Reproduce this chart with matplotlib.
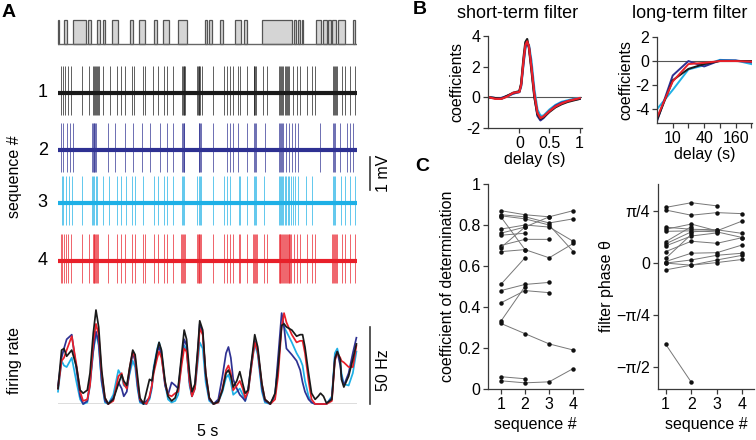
import numpy as np
import matplotlib
matplotlib.use('Agg')
import matplotlib.pyplot as plt
from matplotlib.ticker import FixedLocator, NullFormatter

plt.rcParams['font.family'] = ['Liberation Sans', 'DejaVu Sans']
plt.rcParams['axes.unicode_minus'] = False
plt.rcParams['font.size'] = 11.5

# ---- data ----
# stimulus pulses (s)
stim_on = [0.0, 0.10, 0.251, 0.498, 0.652, 0.747, 0.911, 1.204, 1.36, 1.609, 1.761, 2.012,
           2.45, 2.525, 2.709, 2.965, 3.107, 3.416, 3.943, 4.01, 4.072, 4.314, 4.436, 4.52,
           4.577, 4.674, 4.925]
stim_off = [0.015, 0.156, 0.46, 0.548, 0.694, 0.794, 1.003, 1.249, 1.455, 1.65, 1.848, 2.157,
            2.49, 2.575, 2.759, 3.052, 3.155, 3.913, 3.988, 4.047, 4.105, 4.406, 4.493, 4.56,
            4.649, 4.799, 4.967]

# spike times per sequence (s)
spikes1 = [0.05, 0.078, 0.117, 0.172, 0.212, 0.396, 0.524, 0.58, 0.60, 0.62, 0.635, 0.65, 0.665, 0.68,
           0.758, 0.87, 0.992, 1.048, 1.12, 1.232, 1.276, 1.416, 1.455, 1.594, 1.677, 1.773, 1.817, 1.928,
           2.07, 2.085, 2.10, 2.115, 2.125, 2.32, 2.335, 2.35, 2.365, 2.38, 2.40,
           2.597, 2.776, 2.821, 2.876, 2.932, 3.015, 3.043, 3.155, 3.27, 3.285, 3.30, 3.315,
           3.433, 3.49, 3.69, 3.71, 3.73, 3.75, 3.77, 3.79, 3.81, 3.83, 3.85, 3.87,
           3.935, 3.99, 4.047, 4.159, 4.242, 4.298, 4.60, 4.615, 4.63, 4.645, 4.66,
           4.744, 4.799, 4.883, 4.967]
spikes2 = [0.05, 0.089, 0.145, 0.2, 0.245, 0.565, 0.58, 0.595, 0.61, 0.625, 0.64, 0.84, 0.953,
           1.12, 1.248, 1.398, 1.538, 1.705, 1.817, 1.928, 2.07, 2.085, 2.10, 2.115,
           2.35, 2.365, 2.38, 2.395, 2.597, 2.82, 2.87, 2.93, 3.015, 3.155, 3.27, 3.29, 3.31,
           3.46, 3.70, 3.715, 3.73, 3.745, 3.76, 3.82, 3.86, 3.91, 3.96, 4.02, 4.38,
           4.60, 4.62, 4.64, 4.71, 4.83, 4.88, 4.94]
spikes3 = [0.06, 0.09, 0.13, 0.19, 0.23, 0.40, 0.57, 0.59, 0.61, 0.63, 0.65, 0.76, 0.86, 0.99,
           1.05, 1.13, 1.24, 1.28, 1.42, 1.60, 1.68, 1.78, 1.83, 1.93, 2.07, 2.09, 2.11,
           2.33, 2.35, 2.37, 2.39, 2.60, 2.78, 2.83, 2.88, 3.02, 3.05, 3.16, 3.27, 3.29, 3.31,
           3.45, 3.69, 3.71, 3.73, 3.75, 3.77, 3.79, 3.81, 3.84, 3.87, 3.90, 3.93, 3.97, 4.02,
           4.15, 4.25, 4.60, 4.62, 4.64, 4.74, 4.80, 4.88, 4.96]
spikes4 = [0.05, 0.07, 0.10, 0.14, 0.17, 0.21, 0.40, 0.52, 0.58, 0.595, 0.61, 0.625, 0.64, 0.655, 0.67,
           0.84, 0.99, 1.05, 1.12, 1.23, 1.28, 1.42, 1.46, 1.60, 1.68, 1.77, 1.82, 1.93,
           2.06, 2.075, 2.09, 2.105, 2.12, 2.32, 2.335, 2.35, 2.365, 2.38, 2.395,
           2.60, 2.78, 2.82, 2.88, 2.93, 3.02, 3.05, 3.16, 3.26, 3.275, 3.29, 3.305, 3.32,
           3.44, 3.49, 3.69, 3.705, 3.72, 3.735, 3.75, 3.765, 3.78, 3.795, 3.81, 3.825, 3.84,
           3.855, 3.87, 3.885, 3.90, 3.95, 4.00, 4.05, 4.16, 4.25, 4.30,
           4.59, 4.605, 4.62, 4.635, 4.65, 4.665, 4.75, 4.80, 4.88, 4.97]
trace_offset = [0.0, -1.73, -3.33, -5.09]   # mV
spike_up, spike_down = 0.82, 0.67         # mV

# firing rates (Hz)
rate_t = [0, 0.06, 0.10, 0.145, 0.23, 0.31, 0.37, 0.42, 0.49, 0.535,
          0.59, 0.635, 0.68, 0.73, 0.785, 0.84, 0.925, 1.01, 1.065, 1.10,
          1.15, 1.2, 1.25, 1.29, 1.33, 1.37, 1.43, 1.48, 1.53, 1.57,
          1.6, 1.66, 1.69, 1.73, 1.79, 1.84, 1.9, 1.96, 2.01, 2.07,
          2.11, 2.15, 2.2, 2.24, 2.29, 2.34, 2.37, 2.42, 2.47, 2.53,
          2.6, 2.68, 2.75, 2.81, 2.85, 2.89, 2.93, 2.99, 3.04, 3.09,
          3.13, 3.18, 3.24, 3.29, 3.34, 3.41, 3.46, 3.55, 3.63, 3.68,
          3.74, 3.78, 3.82, 3.91, 3.99, 4.05, 4.09, 4.13, 4.19, 4.24,
          4.3, 4.35, 4.39, 4.44, 4.49, 4.58, 4.63, 4.67, 4.72, 4.74,
          4.78, 4.86, 4.93, 4.99]
rate1 = [10, 35, 36, 31, 35, 24, 9, 7, 9, 20, 46, 61, 50, 22, 4, 0, 3, 13, 19, 15,
         12, 24, 35, 32, 18, 4, 0, 8, 16, 15, 22, 35, 40, 35, 15, 5, 2, 4, 11, 33,
         48, 42, 20, 8, 13, 37, 54, 48, 20, 4, 0, 1.5, 9, 20, 22, 18, 11, 15, 21, 13,
         7, 9, 29, 45, 37, 13, 3, 0, 7, 24, 51, 52, 50, 48, 44, 45, 45, 37, 20, 7,
         3, 5, 7, 5, 0.5, 3, 29, 34, 29, 16, 11, 18, 29, 39]
rate2 = [12, 30, 36, 42, 45, 22, 5, 0, 2, 14, 35, 47, 40, 15, 2, 0, 4, 14, 10, 5,
         8, 22, 33, 28, 12, 2, 0, 2, 4, 12, 22, 34, 37, 32, 12, 6, 14, 12, 10, 30,
         42, 38, 14, 5, 12, 35, 52, 46, 18, 3, 0, 3, 18, 33, 37, 30, 16, 10, 6, 4,
         2, 10, 28, 41, 35, 10, 2, 0, 6, 30, 59, 50, 36, 32, 28, 22, 14, 8, 3, 1,
         0, 0, 0, 0, 0, 4, 30, 34, 25, 18, 12, 20, 33, 43]
rate3 = [8, 28, 25, 24, 30, 14, 3, 0, 1, 12, 34, 46, 38, 14, 1, 0, 6, 22, 18, 12,
         11, 20, 28, 24, 10, 1, 0, 0, 3, 10, 24, 36, 40, 34, 13, 3, 1, 2, 6, 30,
         38, 35, 12, 5, 10, 28, 40, 36, 14, 2, 0, 1, 8, 17, 19, 14, 6, 8, 10, 6,
         2, 8, 26, 39, 32, 8, 1, 0, 5, 26, 51, 50, 47, 40, 33, 29, 25, 15, 5, 1,
         0, 0, 0, 0, 0, 5, 33, 36, 28, 20, 13, 12, 20, 34]
rate4 = [10, 28, 30, 35, 44, 25, 8, 2, 3, 12, 40, 52, 45, 20, 4, 0, 2, 18, 20, 13,
         10, 24, 34, 30, 15, 3, 1, 0, 5, 12, 20, 30, 34, 30, 14, 6, 5, 7, 8, 26,
         36, 34, 15, 5, 10, 32, 49, 45, 20, 4, 0, 1, 10, 22, 25, 20, 9, 12, 15, 10,
         4, 8, 26, 40, 34, 13, 3, 0, 3, 18, 50, 59, 53, 45, 40, 41, 41, 33, 15, 3,
         0, 0, 0, 0, 0, 2, 28, 33, 30, 28, 27, 24, 24, 38]

# B: short-term filter
st_delay = [-0.5, -0.4, -0.3, -0.2, -0.1, 0.0, 0.03, 0.07, 0.1, 0.13, 0.16, 0.2, 0.25,
            0.3, 0.35, 0.4, 0.5, 0.6, 0.7, 0.8, 0.9, 1.0]
st1 = [0.0, -0.05, -0.1, 0.1, 0.3, 0.4, 0.9, 2.6, 3.6, 3.8, 3.2, 1.8, 0.0, -1.1, -1.4, -1.3,
       -0.95, -0.65, -0.45, -0.3, -0.2, -0.1]
st2 = [0.0, -0.05, -0.05, 0.1, 0.25, 0.35, 0.8, 2.3, 3.3, 3.6, 3.3, 2.0, 0.1, -1.2, -1.5, -1.35,
       -0.9, -0.55, -0.35, -0.25, -0.15, -0.1]
st3 = [0.0, -0.05, -0.05, 0.05, 0.25, 0.35, 0.7, 2.2, 3.2, 3.5, 3.4, 2.4, 0.5, -0.8, -1.2, -1.2,
       -0.8, -0.5, -0.3, -0.2, -0.1, -0.05]
st4 = [0.0, -0.1, -0.1, 0.05, 0.3, 0.35, 0.8, 2.4, 3.4, 3.65, 3.3, 2.0, 0.2, -1.0, -1.35, -1.25,
       -0.9, -0.6, -0.4, -0.25, -0.15, -0.05]

# B: long-term filter
lt_delay = [5, 10, 20, 40, 80, 160, 320]
lt1 = [-4.9, -1.6, -0.65, -0.25, 0.0, 0.0, 0.0]
lt2 = [-5.0, -1.2, 0.0, -0.45, 0.05, 0.05, -0.1]
lt3 = [-4.0, -2.4, -0.7, -0.35, 0.1, 0.05, -0.25]
lt4 = [-4.7, -1.7, -0.25, -0.15, 0.0, 0.0, -0.05]

# C: coefficient of determination per cell, sequences 1-4
seq = [1, 2, 3, 4]
r2_cells = [
    [0.87, 0.85, 0.84, 0.87],
    [0.85, 0.84, 0.81, 0.83],
    [0.84, 0.68, 0.64, 0.71],
    [0.845, 0.83, 0.80, 0.67],
    [0.78, 0.80, 0.79, 0.72],
    [0.76, 0.79, 0.84, np.nan],
    [0.75, 0.76, np.nan, np.nan],
    [0.70, 0.73, 0.73, np.nan],
    [0.69, 0.79, np.nan, np.nan],
    [0.67, 0.68, np.nan, np.nan],
    [0.51, 0.64, np.nan, np.nan],
    [0.48, 0.51, 0.52, np.nan],
    [0.42, 0.48, 0.47, np.nan],
    [0.33, 0.50, np.nan, np.nan],
    [0.32, 0.27, 0.22, 0.19],
    [0.06, 0.05, np.nan, np.nan],
    [0.04, 0.03, 0.035, 0.10],
]
# C: filter phase per cell, in units of pi/4
phase_cells = [
    [1.07, 1.16, 1.10, np.nan],
    [1.02, 0.92, 0.97, 0.95],
    [0.69, 0.65, 0.64, 0.57],
    [0.65, 0.75, 0.62, 0.81],
    [0.61, 0.62, 0.60, 0.49],
    [0.41, 0.70, np.nan, np.nan],
    [0.37, 0.60, 0.63, np.nan],
    [0.33, 0.52, 0.58, np.nan],
    [0.22, 0.42, 0.38, 0.49],
    [0.09, 0.55, np.nan, np.nan],
    [0.03, 0.19, 0.20, 0.35],
    [0.0, 0.06, 0.15, 0.19],
    [0.0, -0.04, 0.06, 0.15],
    [-0.13, -0.04, 0.01, 0.07],
    [-1.56, -2.29, np.nan, np.nan],
]

colors = ['#1a1a1a', '#2e3192', '#1eb0e6', '#e8202a']
spine_c = '#3a3a3a'

W, H = 756, 440
fig = plt.figure(figsize=(W / 100, H / 100), dpi=100)


def px_axes(x0, y0, x1, y1):
    return fig.add_axes([x0 / W, 1 - y1 / H, (x1 - x0) / W, (y1 - y0) / H])


def style(ax):
    for s in ['top', 'right']:
        ax.spines[s].set_visible(False)
    for s in ['left', 'bottom']:
        ax.spines[s].set_color(spine_c)
        ax.spines[s].set_linewidth(0.9)
    ax.tick_params(which='both', direction='out', length=3.5, width=0.9, color=spine_c,
                   labelsize=11.5, pad=2)


# ---------------- panel A ----------------
fig.text(2 / W, 1 - 4 / H, 'A', fontsize=14, fontweight='bold', va='top')
ax = px_axes(58, 15, 357, 48)
ax.set_xlim(0, 5)
ax.set_ylim(-0.167, 1.21)
ax.axis('off')
ax.plot([0, 5], [0, 0], color='#666666', lw=1.0)
ax.bar(stim_on, 1, width=np.array(stim_off) - np.array(stim_on), align='edge',
       color='#d5d5d5', edgecolor='#555555', lw=0.9, clip_on=False)

ax = px_axes(58, 60, 357, 290)
ax.set_xlim(0, 5)
ax.set_ylim(-5.97, 1.0)
ax.axis('off')
for i, sp in enumerate([spikes1, spikes2, spikes3, spikes4]):
    off = trace_offset[i]
    ax.vlines(sp, off - spike_down, off + spike_up, color=colors[i], lw=0.7, alpha=0.7)
    ax.plot([0, 5], [off, off], color=colors[i], lw=3.0, solid_capstyle='butt')
    ax.text(-0.17, off, str(i + 1), fontsize=13, ha='right', va='center')
ax.plot([5.22, 5.22], [-2.95, -1.95], color=spine_c, lw=1.2, clip_on=False)
ax.text(5.44, -2.45, '1 mV', rotation=90, ha='center', va='center', fontsize=11.5)
ax.text(-0.72, -2.55, 'sequence #', rotation=90, ha='center', va='center', fontsize=11.5)

ax = px_axes(58, 300, 357, 404)
ax.set_xlim(0, 5)
ax.set_ylim(0, 67.5)
ax.axis('off')
ax.plot([0, 5], [0, 0], color='#555555', lw=1.0)
for r, c in zip([rate3, rate2, rate4, rate1], [colors[2], colors[1], colors[3], colors[0]]):
    ax.plot(rate_t, r, color=c, lw=1.25, clip_on=False, solid_joinstyle='round')
ax.plot([5.22, 5.22], [0, 50], color=spine_c, lw=1.2, clip_on=False)
ax.text(5.44, 22, '50 Hz', rotation=90, ha='center', va='center', fontsize=11.5)
ax.text(-0.72, 28, 'firing rate', rotation=90, ha='center', va='center', fontsize=11.5)
ax.text(2.5, -18, '5 s', ha='center', va='center', fontsize=11.5)

# ---------------- panel B ----------------
fig.text(413 / W, 1 - 1 / H, 'B', fontsize=14, fontweight='bold', va='top')
fig.text(518 / W, 1 - 13 / H, 'short-term filter', fontsize=13, ha='center', va='center')
fig.text(690 / W, 1 - 13 / H, 'long-term filter', fontsize=13, ha='center', va='center')

ax = px_axes(488, 36, 582, 128)
style(ax)
ax.axhline(0, color='#555555', lw=0.8)
for y, c in zip([st3, st2, st1, st4], [colors[2], colors[1], colors[0], colors[3]]):
    ax.plot(st_delay, y, color=c, lw=1.6)
ax.set_xlim(-0.52, 1.04)
ax.set_ylim(-2, 4)
ax.set_xticks([0, 0.5, 1])
ax.set_xticklabels(['0', '0.5', '1'])
ax.set_yticks([-2, 0, 2, 4])
ax.set_xlabel('delay (s)', fontsize=11.5, labelpad=1)
ax.set_ylabel('coefficients', fontsize=11.5, labelpad=1)

ax = px_axes(657, 37, 752, 123)
style(ax)
ax.axhline(0, color='#555555', lw=0.8)
for y, c in zip([lt3, lt2, lt1, lt4], [colors[2], colors[1], colors[0], colors[3]]):
    ax.plot(lt_delay, y, color=c, lw=1.4)
ax.set_xscale('log', base=2)
ax.set_xlim(5, 330)
ax.set_ylim(-5.15, 2)
ax.xaxis.set_major_locator(FixedLocator([10, 40, 160]))
ax.xaxis.set_minor_locator(FixedLocator([20, 80, 320]))
ax.xaxis.set_minor_formatter(NullFormatter())
ax.set_xticklabels(['10', '40', '160'])
ax.set_yticks([-4, -2, 0, 2])
ax.set_xlabel('delay (s)', fontsize=11.5, labelpad=1)
ax.set_ylabel('coefficients', fontsize=11.5, labelpad=1)

# ---------------- panel C ----------------
fig.text(415 / W, 1 - 158 / H, 'C', fontsize=14, fontweight='bold', va='top')

ax = px_axes(488, 184, 583, 389)
style(ax)
for row in r2_cells:
    ax.plot(seq, row, color='#777777', lw=0.7, marker='o', ms=2.2,
            mfc='#111111', mec='#111111')
ax.set_xlim(0.47, 4.4)
ax.set_ylim(0, 1)
ax.set_xticks(seq)
ax.set_yticks([0, 0.2, 0.4, 0.6, 0.8, 1])
ax.set_yticklabels(['0', '0.2', '0.4', '0.6', '0.8', '1'])
ax.set_xlabel('sequence #', fontsize=11.5, labelpad=4)
ax.set_ylabel('coefficient of determination', fontsize=11.5, labelpad=2)

ax = px_axes(658, 184, 754, 389)
style(ax)
q = np.pi / 4
for row in phase_cells:
    ax.plot(seq, np.array(row) * q, color='#777777', lw=0.7, marker='o', ms=2.2,
            mfc='#111111', mec='#111111')
ax.set_xlim(0.7, 4.45)
ax.set_ylim(-2.42 * q, 1.52 * q)
ax.set_xticks(seq)
ax.set_yticks([-2 * q, -q, 0, q])
ax.set_yticklabels(['\u2212\u03c0/2', '\u2212\u03c0/4', '0', '\u03c0/4'])
ax.set_xlabel('sequence #', fontsize=11.5, labelpad=4)
ax.set_ylabel('filter phase \u03b8', fontsize=11.5, labelpad=2)

fig.savefig('out.png', dpi=100)
